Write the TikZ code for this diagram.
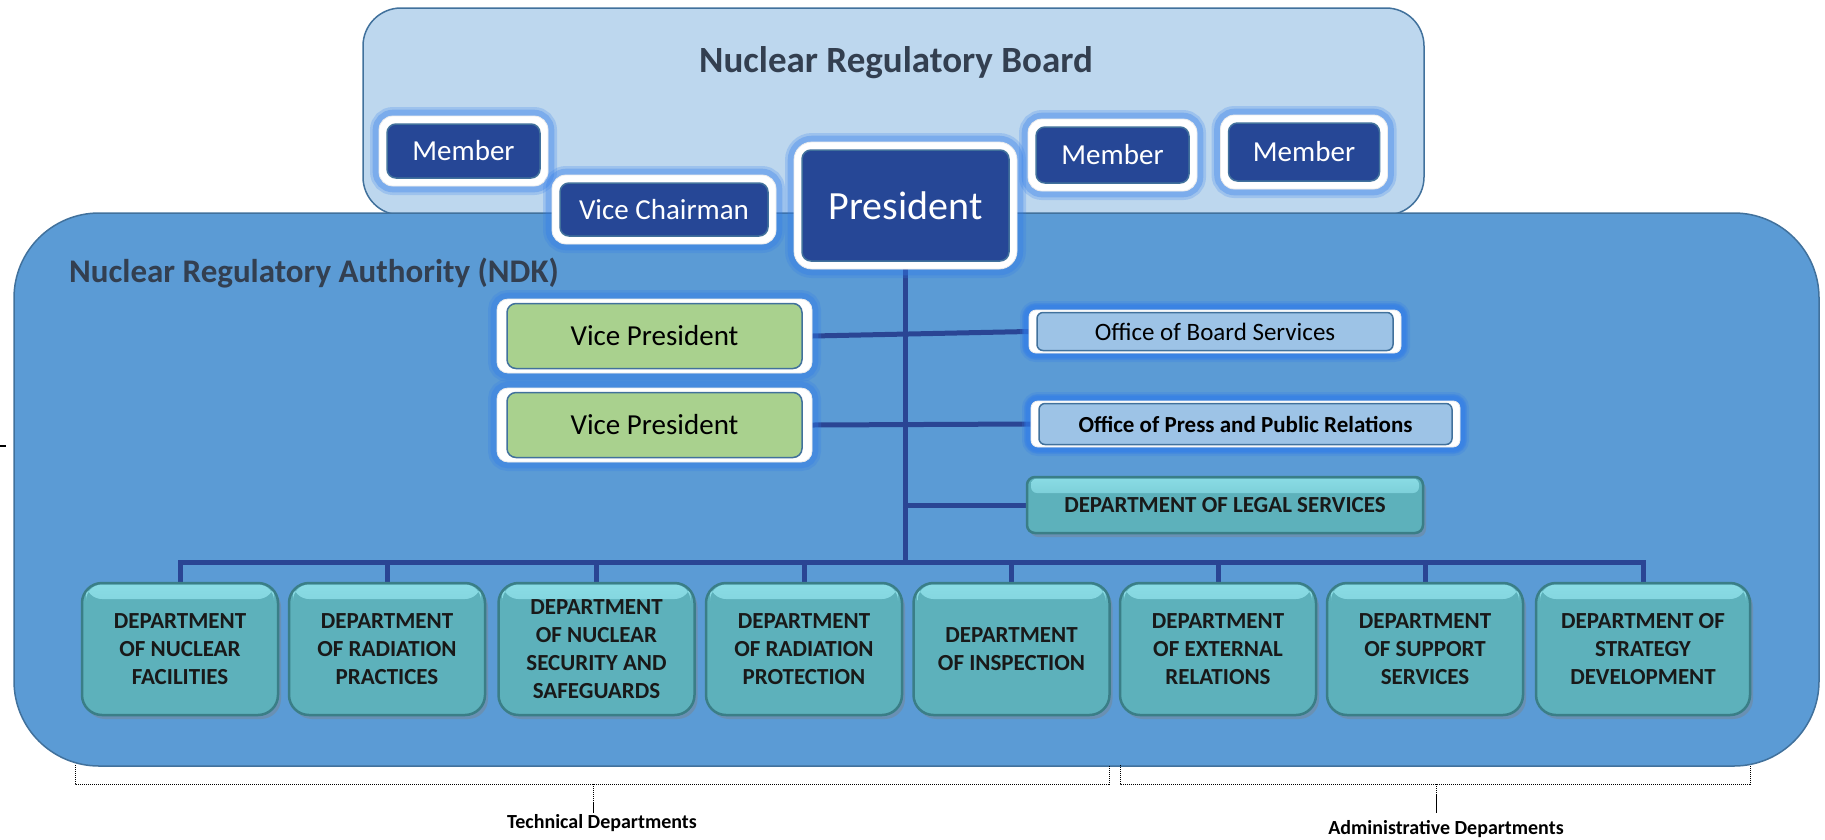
\documentclass[tikz,border=0pt]{standalone}
\usepackage{fontspec}
\setmainfont{Carlito}
\usetikzlibrary{shadows,calc}
\definecolor{boardfill}{HTML}{BDD7EE}
\definecolor{authfill}{HTML}{5B9BD5}
\definecolor{framec}{HTML}{41719C}
\definecolor{navy}{HTML}{264796}
\definecolor{glowc}{HTML}{2F7BEA}
\definecolor{titlec}{HTML}{333F50}
\definecolor{vpgreen}{HTML}{A9D18E}
\definecolor{officec}{HTML}{9DC3E6}
\definecolor{tealbody}{HTML}{5DB1BB}
\definecolor{teallight}{HTML}{8ADCE5}
\definecolor{tealdark}{HTML}{3A7E87}
\definecolor{linkc}{HTML}{2A4594}
\pgfdeclarelayer{back}
\pgfdeclarelayer{mid}
\pgfsetlayers{back,mid,main}
\tikzset{
  container/.style={draw=framec, line width=1.5pt, inner sep=0pt},
  titletext/.style={text=titlec, font=\bfseries\fontsize{37}{44}\selectfont, inner sep=0pt},
  glow/.style={preaction={draw=glowc, line width=#1, opacity=0.22},
               preaction={draw=glowc, line width=#1*0.7, opacity=0.3}},
  ringbox/.style n args={4}{fill=white, draw=white!85!gray, line width=0.8pt, inner sep=0pt, glow=18pt,
    path picture={\draw[fill=#1, draw=framec, line width=1.5pt, rounded corners=#2]
      ([shift={(#3,-#4)}]path picture bounding box.north west) rectangle
      ([shift={(-#3,#4)}]path picture bounding box.south east);}},
  navybox/.style={ringbox={navy}{9pt}{8pt}{8pt}, rounded corners=14pt, text=white,
    font=\fontsize{29}{34}\selectfont},
  vpbox/.style={ringbox={vpgreen}{9pt}{10pt}{4.5pt}, rounded corners=11pt, text=black,
    minimum width=315pt, minimum height=74pt, font=\fontsize{29}{34}\selectfont},
  officebox/.style={ringbox={officec}{6pt}{8pt}{2.5pt}, rounded corners=7pt, text=black, glow=14pt},
  btn/.style={rounded corners=20pt, fill=tealbody, draw=tealdark, line width=2.5pt,
    drop shadow={shadow xshift=3pt, shadow yshift=-4pt, opacity=0.4},
    path picture={\shade[top color=teallight, bottom color=tealbody, rounded corners=#1]
      ([shift={(4pt,-1.5pt)}]path picture bounding box.north west) rectangle
      ([shift={(-4pt,-16pt)}]path picture bounding box.north east);},
    inner sep=0pt, align=center, text=black!90,
    font=\bfseries\fontsize{23}{28}\selectfont},
  btn/.default=16pt,
  dept/.style={btn, minimum width=196pt, minimum height=132pt},
  link/.style={draw=linkc, line width=5pt},
  brk/.style={draw=black, densely dotted, line width=1pt},
  brklabel/.style={font=\bfseries\fontsize{20}{24}\selectfont, text=black, inner sep=0pt}
}
\begin{document}
\begin{tikzpicture}[x=1pt,y=-1pt]
\useasboundingbox (0,0) rectangle (1825,839);
\begin{pgfonlayer}{back}
\node[container, fill=boardfill, rounded corners=38pt, minimum width=1061pt, minimum height=207pt] (board) at (893.5,111.5) {};
\node[container, fill=authfill, rounded corners=85pt, minimum width=1805pt, minimum height=553pt] (ndk) at (916.5,489.5) {};
\end{pgfonlayer}
\node[titletext, anchor=base] (boardtitle) at (896,72) {Nuclear Regulatory Board};
\node[titletext, anchor=base west, font=\bfseries\fontsize{33}{40}\selectfont] (ndktitle) at (69,282) {Nuclear Regulatory Authority (NDK)};

% board members
\node[navybox, minimum width=169pt, minimum height=70pt] (member1) at (463.5,151) {Member};
\node[navybox, minimum width=224pt, minimum height=69pt] (vicechair) at (664,209.5) {Vice Chairman};
\node[navybox, rounded corners=18pt, minimum width=223pt, minimum height=127pt, font=\fontsize{40}{48}\selectfont] (president) at (905.5,205.5) {President};
\node[navybox, minimum width=169pt, minimum height=72pt] (member2) at (1112.5,155) {Member};
\node[navybox, minimum width=167pt, minimum height=74pt] (member3) at (1304,152) {Member};

% vice presidents and offices
\node[vpbox] (vp1) at (654.5,336) {Vice President};
\node[vpbox] (vp2) at (654.5,425) {Vice President};
\node[officebox, minimum width=372pt, minimum height=43pt, font=\fontsize{25}{30}\selectfont] (obs) at (1215,331.5) {Office of Board Services};
\node[officebox, minimum width=429pt, minimum height=46pt, font=\bfseries\fontsize{23}{28}\selectfont] (press) at (1245.5,424) {Office of Press and Public Relations};
\node[btn=6pt, rounded corners=8pt, minimum width=396pt, minimum height=56pt] (legal) at (1225,505) {DEPARTMENT OF LEGAL SERVICES};

% departments
\node[dept] (d1) at (180,649) {DEPARTMENT\\OF NUCLEAR\\FACILITIES};
\node[dept] (d2) at (387,649) {DEPARTMENT\\OF RADIATION\\PRACTICES};
\node[dept] (d3) at (596.5,649) {DEPARTMENT\\OF NUCLEAR\\SECURITY AND\\SAFEGUARDS};
\node[dept] (d4) at (804,649) {DEPARTMENT\\OF RADIATION\\PROTECTION};
\node[dept] (d5) at (1011.5,649) {DEPARTMENT\\OF INSPECTION};
\node[dept] (d6) at (1218,649) {DEPARTMENT\\OF EXTERNAL\\RELATIONS};
\node[dept] (d7) at (1425,649) {DEPARTMENT\\OF SUPPORT\\SERVICES};
\node[dept, minimum width=214pt] (d8) at (1643,649) {DEPARTMENT OF\\STRATEGY\\DEVELOPMENT};

% connectors
\coordinate (busL) at (180,562);
\begin{pgfonlayer}{mid}
\draw[link] (president.south) -- (president.south |- busL);
\draw[link, line cap=rect] (d1.north |- busL) -- (d8.north |- busL);
\foreach \d in {d1,d2,d3,d4,d5,d6,d7,d8}{
  \draw[link] (\d.north) -- (\d.north |- busL);
}
\draw[link] (vp1.east) -- (obs.west);
\draw[link] (vp2.east) -- (press.west);
\draw[link] (president.south |- legal.west) -- (legal.west);
\end{pgfonlayer}

% brackets
\coordinate (tL) at (75,765);
\coordinate (tR) at (1109,765);
\coordinate (aL) at (1120,765);
\coordinate (aR) at (1750,765);
\draw[brk] (tL) -- ++(0,19) -- ($(tR)+(0,19)$) -- (tR);
\node[brklabel, anchor=base] (techlbl) at (602,828) {Technical Departments};
\draw[brk] (593,784) -- (593,803);
\draw[black, line width=1pt] (593,803) -- (593,813);
\draw[brk] (aL) -- ++(0,19) -- ($(aR)+(0,19)$) -- (aR);
\node[brklabel, anchor=base] (admlbl) at (1446,834) {Administrative Departments};
\draw[brk] (1436,784) -- (1436,795);
\draw[black, line width=1pt] (1436,795) -- (1436,813);
% small mark at left edge
\coordinate (markA) at (0,446);
\draw[black, line width=2pt] (markA) -- ++(6,0);
\end{tikzpicture}
\end{document}
